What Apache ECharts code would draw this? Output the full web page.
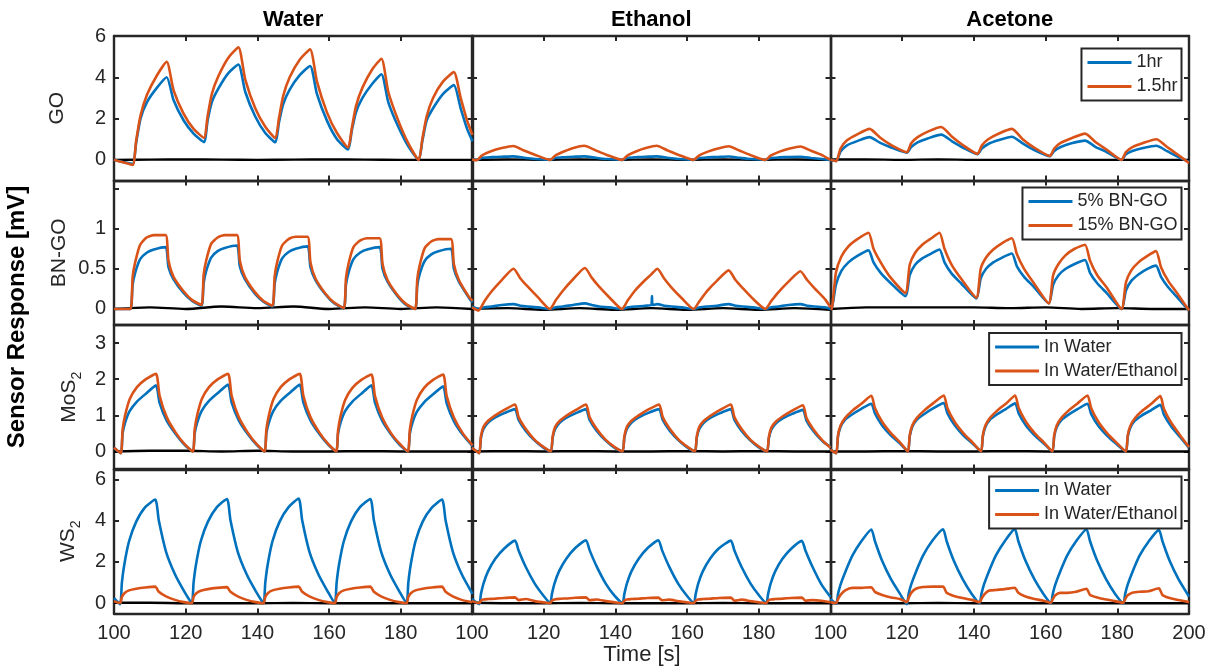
<!DOCTYPE html>
<html>
<head>
<meta charset="utf-8">
<title>Sensor Response</title>
<script src="https://cdn.jsdelivr.net/npm/echarts@6.0.0/dist/echarts.min.js"></script>
<style>
  html, body { margin: 0; padding: 0; background: #fff; }
  #chart { width: 1209px; height: 666px; }
</style>
</head>
<body>
<div id="chart"></div>
<script>
// ---------------- data ----------------
// time stamps [s] of the black reference trace (shared by all panels)
const baseTime = [100, 110, 120, 130, 140, 150, 160, 170, 180, 190, 200];

// ---- GO row ----
const GO_water_time = [100, 102.5, 105.2,
  106.2, 107.4, 109.2, 112, 114.7, 116.6, 119.4, 122.2, 125.1,
  126.1, 127.3, 129.1, 131.9, 134.7, 136.6, 139.4, 142.2, 145,
  146, 147.2, 149, 151.8, 154.7, 156.6, 159.4, 162.2, 165.3,
  166.3, 167.5, 169.3, 172.1, 174.6, 176.5, 179.3, 182.1, 185,
  186, 187.2, 189, 191.8, 194.8, 196.7, 198.5, 200];
const GO_water_1hr = [0, -0.1, -0.2,
  0.85, 2.0, 2.8, 3.5, 4.0, 2.9, 1.92, 1.27, 0.86,
  1.9, 2.8, 3.45, 4.2, 4.62, 3.3, 2.1, 1.3, 0.85,
  1.8, 2.7, 3.4, 4.1, 4.55, 3.2, 1.9, 1.0, 0.5,
  1.4, 2.3, 3.0, 3.7, 4.15, 2.8, 1.6, 0.65, 0,
  0.9, 1.9, 2.5, 3.2, 3.62, 2.5, 1.5, 0.9];
const GO_water_15hr = [0, -0.12, -0.25,
  0.95, 2.15, 3.15, 4.1, 4.75, 3.38, 2.24, 1.5, 1.07,
  2.1, 3.2, 4.05, 4.95, 5.45, 3.9, 2.5, 1.6, 1.05,
  2.0, 3.1, 4.0, 4.85, 5.35, 3.8, 2.3, 1.3, 0.6,
  1.5, 2.6, 3.5, 4.4, 4.9, 3.3, 1.9, 0.8, 0,
  1.0, 2.1, 3.0, 3.8, 4.25, 3.0, 1.9, 1.2];
const GO_water_base = [0, 0.01, 0.02, 0.01, 0, 0.01, 0.02, 0.01, 0, 0, 0];

const GO_ethanol_time = [100, 101.3, 102.8, 105.3, 108.3, 111.5, 114.5, 117.5, 121.8,
  123.3, 125.8, 128.3, 131.3, 134.5, 137.5, 141.9,
  143.4, 145.9, 148.5, 151.5, 154.5, 157.5, 161.8,
  163.3, 165.8, 168.6, 171.6, 174.6, 177.6, 181.8,
  183.3, 185.8, 188.6, 191.6, 194.6, 197.6, 200];
const GO_ethanol_1hr = [0.02, 0.0, 0.1, 0.13, 0.15, 0.17, 0.1, 0.04, 0.0,
  0.1, 0.13, 0.15, 0.17, 0.1, 0.04, 0.0,
  0.1, 0.13, 0.15, 0.17, 0.1, 0.04, 0.0,
  0.09, 0.12, 0.14, 0.16, 0.1, 0.04, 0.0,
  0.09, 0.12, 0.14, 0.15, 0.09, 0.04, 0.0];
const GO_ethanol_15hr = [0.02, -0.02, 0.22, 0.42, 0.57, 0.67, 0.45, 0.25, 0.0,
  0.22, 0.42, 0.58, 0.68, 0.46, 0.25, 0.0,
  0.22, 0.42, 0.57, 0.68, 0.46, 0.25, 0.0,
  0.21, 0.4, 0.55, 0.66, 0.45, 0.24, 0.0,
  0.2, 0.4, 0.55, 0.65, 0.44, 0.23, 0.0];
const GO_ethanol_base = [0, 0.02, 0, 0.02, 0, 0.02, 0, 0.02, 0, 0.02, 0];

const GO_acetone_time = [100, 101.6, 102.8, 104.6, 107.6, 110.9, 113.9, 116.9, 121.3,
  122.5, 124.3, 127.3, 130.9, 133.9, 136.9, 141,
  142.2, 144, 147, 150.6, 153.6, 156.6, 161.2,
  162.4, 164.2, 167.2, 171, 174, 177, 181.2,
  182.4, 184.2, 187.2, 190.9, 193.9, 196.9, 200];
const GO_acetone_1hr = [0, -0.05, 0.4, 0.7, 0.92, 1.1, 0.82, 0.6, 0.35,
  0.62, 0.85, 1.05, 1.22, 0.9, 0.6, 0.28,
  0.55, 0.77, 0.96, 1.12, 0.8, 0.5, 0.18,
  0.43, 0.62, 0.8, 0.93, 0.62, 0.38, 0.0,
  0.27, 0.43, 0.57, 0.68, 0.42, 0.15, -0.1];
const GO_acetone_15hr = [0, -0.06, 0.55, 0.95, 1.25, 1.5, 1.07, 0.72, 0.37,
  0.8, 1.1, 1.38, 1.59, 1.12, 0.72, 0.29,
  0.7, 1.0, 1.28, 1.5, 1.0, 0.62, 0.19,
  0.55, 0.82, 1.05, 1.27, 0.85, 0.5, 0.0,
  0.38, 0.62, 0.82, 1.0, 0.62, 0.25, -0.15];
const GO_acetone_base = [0.02, 0.02, 0, 0.02, 0, 0, 0, 0, 0, 0, 0];

// ---- BN-GO row ----
const BNGO_water_time = [100, 102.5,
  104.6, 105.2, 105.9, 107.3, 109.1, 111.1, 114.4, 115.2, 116.6, 119.4, 121.8,
  124.4, 125.0, 125.7, 127.1, 128.9, 130.9, 134.3, 135.1, 136.5, 139.3, 141.7,
  144.2, 144.8, 145.5, 146.9, 148.7, 150.7, 154.0, 154.8, 156.2, 159.0, 161.4,
  164.1, 164.7, 165.4, 166.8, 168.6, 170.6, 174.1, 174.9, 176.3, 179.1, 181.5,
  184.0, 184.6, 185.3, 186.7, 188.5, 190.5, 194.0, 194.8, 196.2, 199.0, 200];
const BNGO_water_5 = [0.0, 0.0,
  0.0, 0.3, 0.45, 0.62, 0.7, 0.74, 0.77, 0.52, 0.37, 0.2, 0.1,
  0.04, 0.32, 0.47, 0.64, 0.72, 0.76, 0.79, 0.53, 0.37, 0.19, 0.09,
  0.03, 0.31, 0.46, 0.63, 0.71, 0.75, 0.78, 0.52, 0.36, 0.18, 0.07,
  0.01, 0.3, 0.45, 0.62, 0.7, 0.74, 0.77, 0.5, 0.34, 0.16, 0.05,
  0.0, 0.29, 0.44, 0.6, 0.68, 0.72, 0.75, 0.5, 0.34, 0.14, 0.08];
const BNGO_water_15 = [0.0, 0.0,
  0.0, 0.4, 0.58, 0.8, 0.89, 0.92, 0.92, 0.6, 0.4, 0.22, 0.11,
  0.05, 0.42, 0.6, 0.81, 0.89, 0.92, 0.92, 0.6, 0.4, 0.21, 0.1,
  0.04, 0.4, 0.58, 0.79, 0.87, 0.9, 0.9, 0.58, 0.38, 0.19, 0.08,
  0.01, 0.38, 0.56, 0.77, 0.85, 0.88, 0.88, 0.56, 0.36, 0.17, 0.06,
  0.0, 0.37, 0.55, 0.76, 0.84, 0.87, 0.87, 0.56, 0.36, 0.15, 0.1];
const BNGO_water_base = [0.0, 0.02, 0.0, 0.03, 0.01, 0.03, 0.0, 0.02, 0.0, 0.02, 0.0];

const BNGO_ethanol_time = [100,
  101.8, 103.5, 105.5, 108.3, 111.6, 113.5, 115.5, 118.5,
  121.7, 123.4, 125.4, 128.2, 131.5, 133.4, 135.4, 138.4,
  141.8, 143.5, 145.5, 148.3, 150, 150.2, 150.4, 151.7, 153.6, 155.6, 158.6,
  161.8, 163.5, 165.5, 168.3, 171.6, 173.5, 175.5, 178.5,
  181.8, 183.5, 185.5, 188.3, 191.6, 193.5, 195.5, 198.5, 200];
const BNGO_ethanol_5 = [0.03,
  0.0, 0.02, 0.03, 0.05, 0.06, 0.04, 0.03, 0.02,
  0.0, 0.02, 0.03, 0.05, 0.07, 0.05, 0.03, 0.02,
  0.0, 0.02, 0.03, 0.04, 0.05, 0.16, 0.05, 0.06, 0.04, 0.03, 0.02,
  0.0, 0.02, 0.03, 0.04, 0.06, 0.04, 0.03, 0.02,
  0.0, 0.02, 0.03, 0.05, 0.06, 0.04, 0.03, 0.02, 0.0];
const BNGO_ethanol_15 = [0.02,
  -0.02, 0.1, 0.22, 0.36, 0.5, 0.38, 0.28, 0.14,
  0.0, 0.11, 0.23, 0.37, 0.51, 0.39, 0.28, 0.14,
  0.0, 0.11, 0.23, 0.36, 0.43, 0.44, 0.45, 0.5, 0.38, 0.27, 0.13,
  0.0, 0.1, 0.22, 0.35, 0.48, 0.36, 0.26, 0.12,
  0.0, 0.1, 0.21, 0.34, 0.47, 0.36, 0.26, 0.12, 0.02];
const BNGO_ethanol_base = [0.0, 0.01, -0.01, 0.01, -0.01, 0.01, -0.01, 0.01, -0.01, 0.01, -0.01];

const BNGO_acetone_time = [100, 100.3, 101.5, 103, 105, 107.5, 110.6, 112, 114, 116.6,
  120.9, 122.1, 123.6, 125.6, 128.1, 130.4, 131.8, 133.8, 136.4,
  140.7, 141.9, 143.4, 145.4, 147.9, 150.6, 152, 154, 156.6,
  160.9, 162.1, 163.6, 165.6, 168.1, 171, 172.4, 174.4, 177,
  181.2, 182.4, 183.9, 185.9, 188.4, 190.8, 192.2, 194.2, 196.8, 200];
const BNGO_acetone_5 = [0.0, 0.0, 0.3, 0.47, 0.58, 0.66, 0.73, 0.58, 0.45, 0.33,
  0.16, 0.42, 0.55, 0.63, 0.69, 0.74, 0.58, 0.44, 0.32,
  0.13, 0.38, 0.5, 0.58, 0.64, 0.69, 0.53, 0.4, 0.28,
  0.07, 0.3, 0.42, 0.5, 0.56, 0.61, 0.45, 0.32, 0.2,
  0.0, 0.23, 0.35, 0.43, 0.5, 0.54, 0.4, 0.27, 0.14, -0.02];
const BNGO_acetone_15 = [0.0, 0.0, 0.45, 0.65, 0.78, 0.87, 0.95, 0.75, 0.58, 0.4,
  0.2, 0.55, 0.7, 0.8, 0.88, 0.95, 0.75, 0.55, 0.38,
  0.14, 0.5, 0.64, 0.74, 0.82, 0.88, 0.68, 0.5, 0.33,
  0.07, 0.42, 0.56, 0.67, 0.75, 0.8, 0.6, 0.42, 0.27,
  0.0, 0.33, 0.48, 0.58, 0.66, 0.72, 0.52, 0.35, 0.19, -0.02];
const BNGO_acetone_base = [0.0, 0.02, 0.02, 0.02, 0.02, 0.01, 0.02, 0.0, 0.01, 0.0, 0.0];

// ---- MoS2 row ----
const MoS2_water_time = [100,
  101.9, 102.4, 103.1, 104.4, 106.4, 108.9, 111.7, 112.7, 114.7, 117.2, 119.7,
  122, 122.5, 123.2, 124.5, 126.5, 129, 131.8, 132.8, 134.8, 137.3, 139.8,
  142, 142.5, 143.2, 144.5, 146.5, 149, 151.8, 152.8, 154.8, 157.3, 159.8,
  162, 162.5, 163.2, 164.5, 166.5, 169, 171.8, 172.8, 174.8, 177.3, 179.8,
  182, 182.5, 183.2, 184.5, 186.5, 189, 191.8, 192.8, 194.8, 197.3, 200];
const MoS2_water_inWater = [0.1,
  -0.05, 0.5, 0.8, 1.12, 1.38, 1.6, 1.83, 1.35, 0.85, 0.48, 0.18,
  0.0, 0.5, 0.8, 1.13, 1.4, 1.62, 1.85, 1.36, 0.86, 0.48, 0.18,
  0.0, 0.5, 0.8, 1.13, 1.4, 1.62, 1.85, 1.36, 0.86, 0.48, 0.18,
  0.0, 0.5, 0.8, 1.12, 1.38, 1.6, 1.83, 1.35, 0.85, 0.47, 0.17,
  0.0, 0.48, 0.78, 1.1, 1.36, 1.58, 1.8, 1.33, 0.84, 0.46, 0.15];
const MoS2_water_inWaterEthanol = [0.1,
  -0.05, 0.6, 1.0, 1.45, 1.78, 2.0, 2.15, 1.55, 0.95, 0.52, 0.2,
  0.0, 0.6, 1.0, 1.45, 1.78, 2.0, 2.15, 1.55, 0.95, 0.52, 0.2,
  0.0, 0.6, 1.0, 1.45, 1.78, 2.0, 2.15, 1.55, 0.95, 0.52, 0.2,
  0.0, 0.58, 0.98, 1.43, 1.76, 1.98, 2.13, 1.53, 0.94, 0.5, 0.2,
  0.0, 0.58, 0.98, 1.43, 1.76, 1.98, 2.13, 1.53, 0.94, 0.5, 0.17];
const MoS2_water_base = [0.0, 0.02, 0.02, 0.0, 0.02, 0.0, 0.0, 0.01, 0.0, 0.0, 0.0];

const MoS2_ethanol_time = [100,
  102, 102.5, 103.2, 104.5, 106.5, 109, 112, 113, 115, 117.5, 120,
  122, 122.5, 123.2, 124.5, 126.5, 129, 131.8, 132.8, 134.8, 137.3, 139.8,
  142, 142.5, 143.2, 144.5, 146.5, 149, 152.2, 153.2, 155.2, 157.7, 160.2,
  162.2, 162.7, 163.4, 164.7, 166.7, 169.2, 172.2, 173.2, 175.2, 177.7, 180.2,
  182.3, 182.8, 183.5, 184.8, 186.8, 189.3, 192.3, 193.3, 195.3, 197.8, 200];
const MoS2_ethanol_inWater = [0.1,
  -0.05, 0.38, 0.62, 0.8, 0.94, 1.06, 1.17, 0.87, 0.57, 0.3, 0.1,
  0.0, 0.38, 0.62, 0.8, 0.94, 1.06, 1.17, 0.87, 0.57, 0.3, 0.1,
  0.0, 0.38, 0.62, 0.8, 0.94, 1.06, 1.17, 0.87, 0.57, 0.3, 0.1,
  0.0, 0.38, 0.62, 0.8, 0.94, 1.06, 1.17, 0.87, 0.57, 0.3, 0.1,
  0.0, 0.36, 0.6, 0.78, 0.92, 1.04, 1.15, 0.85, 0.55, 0.28, 0.12];
const MoS2_ethanol_inWaterEthanol = [0.1,
  -0.05, 0.42, 0.68, 0.85, 1.0, 1.15, 1.3, 0.95, 0.62, 0.32, 0.12,
  0.0, 0.42, 0.68, 0.85, 1.0, 1.15, 1.3, 0.95, 0.62, 0.32, 0.12,
  0.0, 0.42, 0.68, 0.85, 1.0, 1.15, 1.3, 0.95, 0.62, 0.32, 0.12,
  0.0, 0.42, 0.68, 0.85, 1.0, 1.15, 1.3, 0.95, 0.62, 0.32, 0.12,
  0.0, 0.4, 0.66, 0.83, 0.98, 1.13, 1.28, 0.93, 0.6, 0.3, 0.1];
const MoS2_ethanol_base = [0.0, 0.01, 0.0, 0.01, 0.0, 0.0, 0.01, 0.0, 0.01, 0.0, 0.0];

const MoS2_acetone_time = [100,
  101.6, 102.1, 102.8, 104.1, 106.1, 108.6, 111.4, 112.4, 114.4, 116.9, 119.4,
  121.6, 122.1, 122.8, 124.1, 126.1, 128.6, 131.6, 132.6, 134.6, 137.1, 139.6,
  142, 142.5, 143.2, 144.5, 146.5, 149, 151.5, 152.5, 154.5, 157, 159.5,
  161.9, 162.4, 163.1, 164.4, 166.4, 168.9, 171.7, 172.7, 174.7, 177.2, 179.7,
  182.4, 182.9, 183.6, 184.9, 186.9, 189.4, 192, 193, 195, 197.5, 200];
const MoS2_acetone_inWater = [0.05,
  -0.05, 0.42, 0.68, 0.88, 1.03, 1.18, 1.32, 1.05, 0.72, 0.44, 0.22,
  0.0, 0.42, 0.68, 0.88, 1.03, 1.19, 1.34, 1.06, 0.73, 0.44, 0.22,
  0.0, 0.42, 0.68, 0.88, 1.03, 1.18, 1.33, 1.05, 0.72, 0.44, 0.22,
  0.0, 0.41, 0.67, 0.87, 1.02, 1.17, 1.32, 1.04, 0.71, 0.43, 0.21,
  0.0, 0.4, 0.65, 0.85, 1.0, 1.14, 1.29, 1.02, 0.7, 0.4, 0.1];
const MoS2_acetone_inWaterEthanol = [0.05,
  -0.05, 0.45, 0.72, 0.93, 1.13, 1.32, 1.54, 1.2, 0.82, 0.5, 0.25,
  0.0, 0.45, 0.72, 0.93, 1.13, 1.33, 1.55, 1.2, 0.82, 0.5, 0.25,
  0.0, 0.45, 0.72, 0.93, 1.13, 1.33, 1.55, 1.2, 0.82, 0.5, 0.25,
  0.0, 0.45, 0.72, 0.93, 1.13, 1.33, 1.55, 1.2, 0.82, 0.5, 0.25,
  0.0, 0.44, 0.7, 0.92, 1.12, 1.31, 1.53, 1.18, 0.8, 0.45, 0.12];
const MoS2_acetone_base = [0.0, 0.0, 0.01, 0.0, 0.0, 0.01, 0.0, 0.0, 0.0, 0.0, 0.0];

// ---- WS2 row ----
const WS2_water_time = [100,
  101.7, 102.2, 102.9, 104.2, 106.2, 108.7, 111.5, 112.5, 114.5, 117, 119.5,
  121.7, 122.2, 122.9, 124.2, 126.2, 128.7, 131.5, 132.5, 134.5, 137, 139.5,
  141.7, 142.2, 142.9, 144.2, 146.2, 148.7, 151.5, 152.5, 154.5, 157, 159.5,
  161.6, 162.1, 162.8, 164.1, 166.1, 168.6, 171.5, 172.5, 174.5, 177, 179.5,
  181.6, 182.1, 182.8, 184.1, 186.1, 188.6, 191.5, 192.5, 194.5, 197, 200];
const WS2_water_inWater = [0.25,
  -0.05, 1.0, 1.9, 3.0, 3.95, 4.65, 5.02, 4.0, 2.5, 1.4, 0.6,
  0.0, 1.0, 1.9, 3.0, 3.95, 4.65, 5.05, 4.0, 2.5, 1.4, 0.6,
  0.0, 1.0, 1.9, 3.0, 3.95, 4.65, 5.07, 4.0, 2.5, 1.4, 0.6,
  0.0, 1.0, 1.9, 3.0, 3.95, 4.65, 5.05, 4.0, 2.5, 1.4, 0.6,
  0.0, 1.0, 1.9, 3.0, 3.95, 4.62, 5.02, 4.0, 2.5, 1.4, 0.45];
const WS2_water_inWaterEthanol = [0.1,
  0.0, 0.3, 0.48, 0.62, 0.7, 0.76, 0.8, 0.55, 0.33, 0.16, 0.05,
  0.0, 0.3, 0.47, 0.6, 0.68, 0.74, 0.78, 0.55, 0.33, 0.16, 0.05,
  0.0, 0.3, 0.48, 0.62, 0.7, 0.76, 0.8, 0.55, 0.33, 0.16, 0.05,
  0.0, 0.3, 0.48, 0.62, 0.7, 0.76, 0.8, 0.55, 0.33, 0.16, 0.05,
  0.0, 0.3, 0.48, 0.62, 0.7, 0.76, 0.8, 0.55, 0.33, 0.16, 0.04];
const WS2_water_base = [0.02, 0.02, 0.0, 0.0, 0.0, 0.01, 0.0, 0.0, 0.0, 0.0, 0.0];

const WS2_ethanol_time = [100,
  102, 102.5, 103.2, 104.5, 106.5, 109, 112, 113, 115, 117.5, 120,
  121.8, 122.3, 123, 124.3, 126.3, 128.8, 131.8, 132.8, 134.8, 137.3, 139.8,
  142, 142.5, 143.2, 144.5, 146.5, 149, 152, 153, 155, 157.5, 160,
  161.9, 162.4, 163.1, 164.4, 166.4, 168.9, 172.2, 173.2, 175.2, 177.7, 180.2,
  182.1, 182.6, 183.3, 184.6, 186.6, 189.1, 192, 193, 195, 197.5, 200];
const WS2_ethanol_inWater = [0.2,
  -0.05, 0.45, 0.95, 1.55, 2.15, 2.65, 3.03, 2.55, 1.75, 0.95, 0.35,
  0.0, 0.45, 0.95, 1.55, 2.15, 2.67, 3.05, 2.57, 1.77, 0.95, 0.35,
  0.0, 0.45, 0.95, 1.55, 2.15, 2.67, 3.05, 2.57, 1.77, 0.95, 0.35,
  0.0, 0.45, 0.95, 1.55, 2.15, 2.66, 3.03, 2.55, 1.75, 0.95, 0.35,
  0.0, 0.45, 0.95, 1.55, 2.15, 2.65, 3.02, 2.55, 1.75, 0.9, 0.3];
const WS2_ethanol_inWaterEthanol = [0.1,
  0.0, 0.12, 0.18, 0.2, 0.22, 0.25, 0.28, 0.15, 0.2, 0.1, 0.04,
  0.0, 0.12, 0.18, 0.21, 0.23, 0.26, 0.28, 0.14, 0.18, 0.1, 0.04,
  0.0, 0.12, 0.18, 0.2, 0.22, 0.25, 0.27, 0.14, 0.17, 0.1, 0.04,
  0.0, 0.12, 0.18, 0.2, 0.22, 0.25, 0.27, 0.12, 0.17, 0.1, 0.04,
  0.0, 0.12, 0.18, 0.2, 0.22, 0.25, 0.27, 0.12, 0.15, 0.12, 0.05];
const WS2_ethanol_base = [0.02, 0.0, 0.0, 0.01, 0.0, 0.0, 0.0, 0.01, 0.0, 0.0, 0.0];

const WS2_acetone_time = [100,
  101.6, 102.1, 102.8, 104.1, 106.1, 108.6, 111.4, 112.4, 114.4, 116.9, 119.4,
  121.3, 121.8, 122.5, 123.8, 125.8, 128.3, 131.4, 132.4, 134.4, 136.9, 139.4,
  141.6, 142.1, 142.8, 144.1, 146.1, 148.6, 151.4, 152.4, 154.4, 156.9, 159.4,
  161.5, 162, 162.7, 164, 166, 168.5, 171.4, 172.4, 174.4, 176.9, 179.4,
  181.7, 182.2, 182.9, 184.2, 186.2, 188.7, 191.6, 192.6, 194.6, 197.1, 200];
const WS2_acetone_inWater = [0.2,
  -0.03, 0.45, 0.9, 1.5, 2.3, 3.0, 3.57, 3.0, 2.05, 1.15, 0.45,
  -0.05, 0.45, 0.9, 1.5, 2.3, 3.0, 3.58, 3.0, 2.05, 1.15, 0.45,
  0.0, 0.45, 0.9, 1.5, 2.3, 3.0, 3.6, 3.0, 2.05, 1.15, 0.45,
  0.0, 0.45, 0.9, 1.5, 2.3, 3.0, 3.58, 3.0, 2.05, 1.15, 0.45,
  0.0, 0.45, 0.9, 1.5, 2.3, 2.98, 3.55, 3.0, 2.05, 1.15, 0.32];
const WS2_acetone_inWaterEthanol = [0.05,
  0.0, 0.2, 0.4, 0.62, 0.74, 0.74, 0.77, 0.55, 0.4, 0.28, 0.2,
  0.05, 0.25, 0.5, 0.7, 0.78, 0.8, 0.8, 0.5, 0.35, 0.25, 0.16,
  0.05, 0.2, 0.4, 0.6, 0.64, 0.68, 0.75, 0.5, 0.32, 0.2, 0.12,
  0.02, 0.2, 0.38, 0.5, 0.5, 0.55, 0.7, 0.4, 0.28, 0.18, 0.1,
  0.02, 0.2, 0.38, 0.5, 0.55, 0.58, 0.72, 0.4, 0.25, 0.15, 0.05];
const WS2_acetone_base = [0.0, 0.0, 0.0, 0.01, 0.0, 0.0, 0.0, 0.0, 0.0, 0.0, 0.0];

// ---- axes / labels ----
const solvents = ['Water', 'Ethanol', 'Acetone'];
const materialNames = ['GO', 'BN-GO', 'MoS{sub|2}', 'WS{sub|2}'];
const legendNames = [
  ['1hr', '1.5hr'],
  ['5% BN-GO', '15% BN-GO'],
  ['In Water', 'In Water/Ethanol'],
  ['In Water', 'In Water/Ethanol']
];
const rowYMin = [-1, -0.2, -0.5, -0.5];
const rowYMax = [6, 1.6, 3.5, 6.5];
const rowYTicks = [[0, 2, 4, 6], [0, 0.5, 1, 1.5], [0, 1, 2, 3], [0, 2, 4, 6]];
const rowYTickLabels = [[0, 2, 4, 6], [0, 0.5, 1], [0, 1, 2, 3], [0, 2, 4, 6]];
const timeMin = 100, timeMax = 200, timeStep = 20;

// panel table: [row][col]
const panels = [
  [
    { time: GO_water_time, a: GO_water_1hr, b: GO_water_15hr, base: GO_water_base },
    { time: GO_ethanol_time, a: GO_ethanol_1hr, b: GO_ethanol_15hr, base: GO_ethanol_base },
    { time: GO_acetone_time, a: GO_acetone_1hr, b: GO_acetone_15hr, base: GO_acetone_base }
  ],
  [
    { time: BNGO_water_time, a: BNGO_water_5, b: BNGO_water_15, base: BNGO_water_base },
    { time: BNGO_ethanol_time, a: BNGO_ethanol_5, b: BNGO_ethanol_15, base: BNGO_ethanol_base },
    { time: BNGO_acetone_time, a: BNGO_acetone_5, b: BNGO_acetone_15, base: BNGO_acetone_base }
  ],
  [
    { time: MoS2_water_time, a: MoS2_water_inWater, b: MoS2_water_inWaterEthanol, base: MoS2_water_base },
    { time: MoS2_ethanol_time, a: MoS2_ethanol_inWater, b: MoS2_ethanol_inWaterEthanol, base: MoS2_ethanol_base },
    { time: MoS2_acetone_time, a: MoS2_acetone_inWater, b: MoS2_acetone_inWaterEthanol, base: MoS2_acetone_base }
  ],
  [
    { time: WS2_water_time, a: WS2_water_inWater, b: WS2_water_inWaterEthanol, base: WS2_water_base },
    { time: WS2_ethanol_time, a: WS2_ethanol_inWater, b: WS2_ethanol_inWaterEthanol, base: WS2_ethanol_base },
    { time: WS2_acetone_time, a: WS2_acetone_inWater, b: WS2_acetone_inWaterEthanol, base: WS2_acetone_base }
  ]
];

// ---------------- styling / layout ----------------
const FONT = '"Liberation Sans", Arial, Helvetica, sans-serif';
const INK = '#262626';
const BLUE = '#0072BD';
const ORANGE = '#D95319';
const colLeft = [114, 472, 830.5];
const colWidth = 358.5;
const rowTop = [36, 180.5, 325, 469];
const rowHeight = 144.5;
const nameGaps = [42, 40, 30, 31];
const legendTop = [48.5, 187.5, 333, 476.5];

function pairs(t, v) { return t.map((x, i) => [x, v[i]]); }

const axisLine = { show: true, onZero: false, lineStyle: { color: INK, width: 2.4 } };
const axisTickBase = { show: true, inside: true, length: 5, lineStyle: { color: INK, width: 2 } };

const grids = [], xAxes = [], yAxes = [], series = [];

for (let r = 0; r < 4; r++) {
  for (let c = 0; c < 3; c++) {
    const g = r * 3 + c;
    grids.push({ left: colLeft[c], top: rowTop[r], width: colWidth, height: rowHeight, containLabel: false, outerBoundsMode: 'none' });

    xAxes.push({
      type: 'value', gridIndex: g, position: 'bottom', min: timeMin, max: timeMax, interval: timeStep,
      axisLine, axisTick: axisTickBase, splitLine: { show: false },
      axisLabel: {
        show: r === 3, margin: 10, fontSize: 20, color: INK, fontFamily: FONT,
        formatter: v => (c < 2 && v === timeMax) ? '' : String(v)
      }
    });
    xAxes.push({
      type: 'value', gridIndex: g, position: 'top', min: timeMin, max: timeMax, interval: timeStep,
      axisLine, axisTick: axisTickBase, axisLabel: { show: false }, splitLine: { show: false }
    });

    yAxes.push({
      type: 'value', gridIndex: g, position: 'left', min: rowYMin[r], max: rowYMax[r],
      axisLine, splitLine: { show: false },
      axisTick: Object.assign({}, axisTickBase, { customValues: rowYTicks[r] }),
      axisLabel: { show: c === 0, customValues: rowYTickLabels[r], margin: 8, fontSize: 20, color: INK, fontFamily: FONT },
      name: c === 0 ? materialNames[r] : '',
      nameLocation: 'middle', nameGap: nameGaps[r],
      nameTextStyle: {
        fontSize: 21, color: INK, fontFamily: FONT, lineHeight: 30,
        rich: { sub: { fontSize: 14, color: INK, fontFamily: FONT, verticalAlign: 'bottom', lineHeight: 30 } }
      }
    });
    yAxes.push({
      type: 'value', gridIndex: g, position: 'right', min: rowYMin[r], max: rowYMax[r],
      axisLine, splitLine: { show: false },
      axisTick: Object.assign({}, axisTickBase, { customValues: rowYTicks[r] }),
      axisLabel: { show: false }
    });

    const p = panels[r][c];
    const common = { type: 'line', xAxisIndex: 2 * g, yAxisIndex: 2 * g, symbol: 'none', showSymbol: false, animation: false };
    series.push(Object.assign({}, common, {
      name: 'reference', data: pairs(baseTime, p.base), smooth: 0.3,
      lineStyle: { color: '#000', width: 2.4 }, itemStyle: { color: '#000' }, silent: true
    }));
    series.push(Object.assign({}, common, {
      name: legendNames[r][0], data: pairs(p.time, p.a), smooth: 0.2,
      lineStyle: { color: BLUE, width: 2.6 }, itemStyle: { color: BLUE }
    }));
    series.push(Object.assign({}, common, {
      name: legendNames[r][1], data: pairs(p.time, p.b), smooth: 0.2,
      lineStyle: { color: ORANGE, width: 2.6 }, itemStyle: { color: ORANGE }
    }));
  }
}

const legends = legendNames.map((names, r) => ({
  data: names, orient: 'vertical', right: 27.5, top: legendTop[r],
  icon: 'rect', itemWidth: 44, itemHeight: 3, itemGap: 4,
  padding: [4, 4, 4, 6], borderColor: INK, borderWidth: 2, backgroundColor: '#fff',
  selectedMode: false,
  textStyle: { fontSize: 18, color: INK, fontFamily: FONT, lineHeight: 20 }
}));

const colCenters = colLeft.map(l => l + colWidth / 2);
const graphics = solvents.map((s, c) => ({
  type: 'text', x: colCenters[c], y: 20,
  style: { text: s, fontSize: 22, fontWeight: 'bold', fontFamily: FONT, fill: '#000', align: 'center', verticalAlign: 'middle' }
}));
graphics.push({
  type: 'text', x: 17, y: 317, rotation: Math.PI / 2,
  style: { text: 'Sensor Response [mV]', fontSize: 24, fontWeight: 'bold', fontFamily: FONT, fill: '#000', align: 'center', verticalAlign: 'middle' }
});
graphics.push({
  type: 'text', x: 642, y: 655,
  style: { text: 'Time [s]', fontSize: 22, fontFamily: FONT, fill: INK, align: 'center', verticalAlign: 'middle' }
});

const chart = echarts.init(document.getElementById('chart'), null, { renderer: 'canvas' });
chart.setOption({
  backgroundColor: '#fff',
  animation: false,
  grid: grids,
  xAxis: xAxes,
  yAxis: yAxes,
  legend: legends,
  graphic: graphics,
  series: series
});
</script>
</body>
</html>
